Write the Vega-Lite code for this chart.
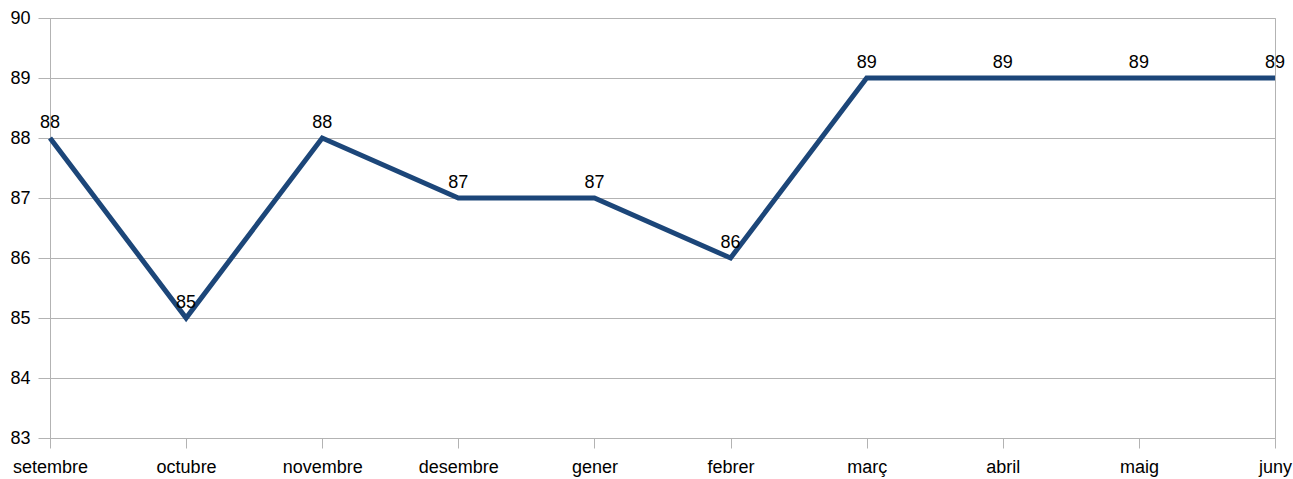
{
  "$schema": "https://vega.github.io/schema/vega-lite/v6.json",
  "width": 1225,
  "height": 420,
  "autosize": {"type": "none"},
  "padding": {"left": 50, "top": 18, "right": 18, "bottom": 41},
  "background": "white",
  "config": {
    "font": "Liberation Sans",
    "view": {"stroke": "#b3b3b3", "strokeWidth": 1}
  },
  "data": {
    "values": [
      {"mes": "setembre", "valor": 88},
      {"mes": "octubre", "valor": 85},
      {"mes": "novembre", "valor": 88},
      {"mes": "desembre", "valor": 87},
      {"mes": "gener", "valor": 87},
      {"mes": "febrer", "valor": 86},
      {"mes": "març", "valor": 89},
      {"mes": "abril", "valor": 89},
      {"mes": "maig", "valor": 89},
      {"mes": "juny", "valor": 89}
    ]
  },
  "encoding": {
    "x": {
      "field": "mes",
      "type": "ordinal",
      "sort": null,
      "scale": {"type": "point", "padding": 0},
      "axis": {
        "title": null,
        "labelAngle": 0,
        "labelFontSize": 18,
        "labelColor": "#000000",
        "labelPadding": 10,
        "tickSize": 10,
        "tickColor": "#b3b3b3",
        "domainColor": "#b3b3b3",
        "grid": false
      }
    },
    "y": {
      "field": "valor",
      "type": "quantitative",
      "scale": {"domain": [83, 90], "nice": false, "zero": false},
      "axis": {
        "title": null,
        "values": [83, 84, 85, 86, 87, 88, 89, 90],
        "labelFontSize": 18,
        "labelColor": "#000000",
        "labelPadding": 8,
        "tickSize": 12,
        "tickColor": "#b3b3b3",
        "domainColor": "#b3b3b3",
        "gridColor": "#b3b3b3",
        "grid": true
      }
    }
  },
  "layer": [
    {
      "mark": {"type": "line", "color": "#1c4679", "strokeWidth": 5, "strokeJoin": "miter", "strokeCap": "butt"}
    },
    {
      "mark": {"type": "text", "fontSize": 18, "color": "#000000", "baseline": "bottom", "dy": -6},
      "encoding": {"text": {"field": "valor", "type": "quantitative"}}
    }
  ]
}
